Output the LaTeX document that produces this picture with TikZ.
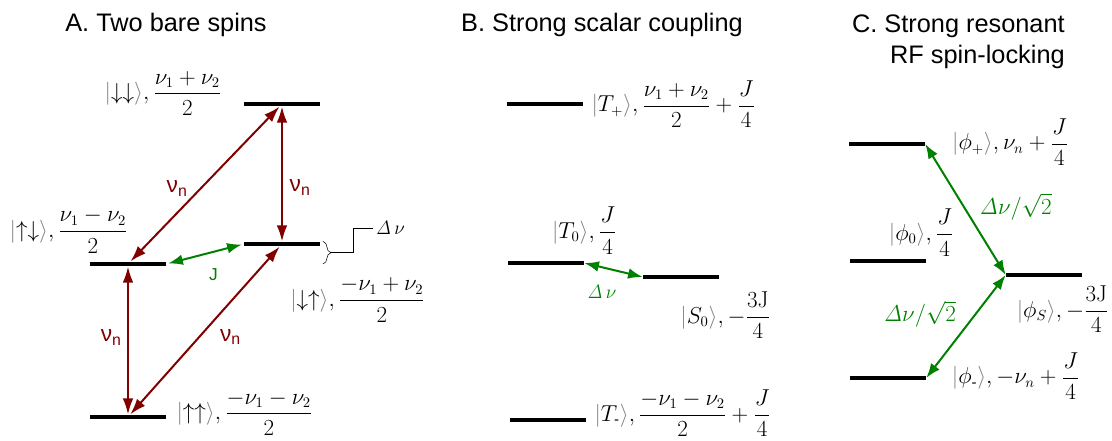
\documentclass[tikz,border=0pt]{standalone}
\usepackage{amsmath}
\usepackage[no-math]{fontspec}
\setmainfont{Liberation Sans}
\usepackage{xcolor}
\usetikzlibrary{arrows.meta,positioning,decorations.pathreplacing,calc}
\definecolor{nred}{RGB}{128,0,0}
\definecolor{jgreen}{RGB}{0,128,0}
\newcommand{\stt}[1]{{\color{gray}|}#1{\color{gray}\rangle}}

\begin{document}
\begin{tikzpicture}[x=0.75pt, y=-0.75pt,
  lvl/.style={fill=black, minimum width=57pt, minimum height=3.5pt, inner sep=0pt},
  lab/.style={inner sep=0pt, font=\fontsize{16}{19}\selectfont},
  ttl/.style={font=\fontsize{19}{23}\selectfont, align=right, inner sep=0pt},
  rarr/.style={{Latex[length=12pt,width=8pt]}-{Latex[length=12pt,width=8pt]}, line width=1.5pt, nred},
  garr/.style={{Latex[length=11pt,width=8pt]}-{Latex[length=11pt,width=8pt]}, line width=1.5pt, jgreen},
  nlab/.style={text=nred, font=\fontsize{17}{20}\selectfont, inner sep=0pt},
  glab/.style={text=jgreen, inner sep=0pt}
]
\useasboundingbox (0,0) rectangle (1112,441);

% titles
\node[ttl] (ta) at (166,25) {A. Two bare spins};
\node[ttl] (tb) at (602,25) {B. Strong scalar coupling};
\node[ttl, anchor=east] (tc) at (1065,42) {C. Strong resonant\\RF spin-locking};

% A. two bare spins
\node[lvl] (dd) at (282,104) {};
\node[lvl] (ud) at (128,264) {};
\node[lvl] (du) at (282,244) {};
\node[lvl] (uu) at (128,417) {};
\node[lab, left=16.5pt of dd, yshift=8pt] (ddl) {$\stt{{\downarrow}{\downarrow}},\dfrac{\nu_1+\nu_2}{2}$};
\node[lab, above left=6pt and 0pt of ud.north] (udl) {$\stt{{\uparrow}{\downarrow}},\dfrac{\nu_1-\nu_2}{2}$};
\node[lab, below right=23pt and 6pt of du.south] (dul) {$\stt{{\downarrow}{\uparrow}},\dfrac{-\nu_1+\nu_2}{2}$};
\node[lab, right=7.5pt of uu, yshift=3pt] (uul) {$\stt{{\uparrow}{\uparrow}},\dfrac{-\nu_1-\nu_2}{2}$};
\draw[rarr] (dd) -- node[nlab, pos=0.53, left=9pt] {ν\textsubscript{n}} (ud);
\draw[rarr] (dd) -- node[nlab, pos=0.6, right=5pt] {ν\textsubscript{n}} (du);
\draw[rarr] (ud) -- node[nlab, pos=0.48, left=4pt] {ν\textsubscript{n}} (uu);
\draw[rarr] (uu) -- node[nlab, pos=0.46, right=15pt] {ν\textsubscript{n}} (du);
\draw[garr, shorten <=1.5pt, shorten >=1.5pt] (ud.east) -- node[glab, pos=0.61, below=12pt, font=\fontsize{13}{15}\selectfont] {J} (du.west);
% splitting brace
\coordinate (bt) at ([xshift=2pt]du.north east);
\coordinate (bb) at (bt |- ud);
\draw[decorate, decoration={brace, amplitude=6pt}] (bt) -- (bb);
\coordinate (btip) at ($(bt)!0.5!(bb)+(6pt,0)$);
\node[lab, anchor=west, inner sep=2pt, font=\fontsize{15}{18}\selectfont] (dvl) at (373,228) {$\mathit{\Delta}\,\nu$};
\draw (btip) -- ++(17pt,0) |- (dvl.west);

% B. strong scalar coupling
\node[lvl] (tp) at (545,104) {};
\node[lvl] (t0) at (546,263) {};
\node[lvl] (s0) at (681,277) {};
\node[lvl] (tm) at (548,420) {};
\node[lab, right=6pt of tp] (tpl) {$\stt{T_+},\dfrac{\nu_1+\nu_2}{2}+\dfrac{J}{4}$};
\node[lab, above=4.5pt of t0.north east] (t0l) {$\stt{T_0},\dfrac{J}{4}$};
\node[lab, below=9pt of s0.south east, xshift=4.5pt] (s0l) {$\stt{S_0},-\dfrac{\mathrm{3J}}{4}$};
\node[lab, right=6pt of tm, yshift=5pt] (tml) {$\stt{T_{\text{-}}},\dfrac{-\nu_1-\nu_2}{2}+\dfrac{J}{4}$};
\draw[garr] (t0.east) -- node[glab, pos=0.3, below=13pt, font=\fontsize{14}{17}\selectfont] {$\mathit{\Delta}\,\nu$} (s0.west);

% C. strong resonant RF spin-locking
\node[lvl] (pp) at (887,144) {};
\node[lvl] (p0) at (888,261) {};
\node[lvl] (ps) at (1044,275) {};
\node[lvl] (pm) at (888,378) {};
\node[lab, right=20pt of pp, yshift=1.5pt] (ppl) {$\stt{\phi_+},\nu_n+\dfrac{J}{4}$};
\node[lab, above=1.5pt of p0.north east, xshift=-3.75pt] (p0l) {$\stt{\phi_0},\dfrac{J}{4}$};
\node[lab, below=6pt of ps.south, xshift=14pt] (psl) {$\stt{\phi_S},-\dfrac{\mathrm{3J}}{4}$};
\node[lab, right=19pt of pm, yshift=1.5pt] (pml) {$\stt{\phi_{\text{-}}},-\nu_n+\dfrac{J}{4}$};
\draw[garr] (pp.east) -- node[glab, pos=0.48, right=11pt, font=\fontsize{19}{22}\selectfont] {$\mathit{\Delta}\nu/\sqrt{2}$} (ps.west);
\draw[garr] (ps.west) -- node[glab, pos=0.38, left=14pt, font=\fontsize{19}{22}\selectfont] {$\mathit{\Delta}\nu/\sqrt{2}$} (pm.east);
\end{tikzpicture}
\end{document}
